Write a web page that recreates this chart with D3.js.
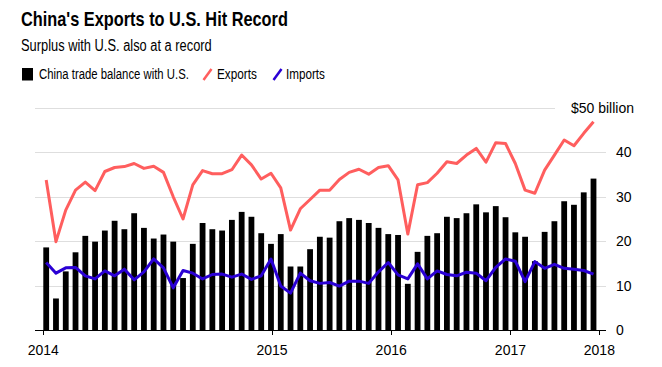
<!DOCTYPE html>
<html>
<head>
<meta charset="utf-8">
<script src="https://cdn.jsdelivr.net/npm/d3@7"></script>
<style>
  html, body { margin: 0; padding: 0; background: #fff; }
  svg { display: block; font-family: "Liberation Sans", Arial, Helvetica, sans-serif; }
</style>
</head>
<body>
<svg id="chart" width="662" height="367"></svg>
<script>
// Monthly values, $ billion
const balance = [18.6, 7.1, 13.2, 17.5, 21.2, 19.9, 22.4, 24.6, 22.7, 26.3,
  23.0, 20.6, 21.5, 19.9, 11.7, 19.4, 24.1, 22.7, 22.4, 24.8,
  26.6, 25.5, 21.8, 19.4, 21.6, 14.3, 14.3, 18.2, 21.0, 20.8,
  24.5, 25.2, 24.8, 24.1, 23.0, 21.6, 21.4, 10.4, 17.6, 21.2,
  21.8, 25.5, 25.2, 26.3, 28.3, 26.5, 27.9, 25.4, 22.0, 21.0,
  15.5, 22.1, 24.5, 29.0, 28.2, 31.0, 34.1];
const exportsVals = [33.8, 19.9, 27.0, 31.5, 33.3, 31.4, 35.7, 36.6, 36.8, 37.5,
  36.4, 36.9, 35.5, 30.0, 25.0, 32.7, 35.9, 35.2, 35.2, 36.1,
  39.4, 37.2, 34.0, 35.3, 32.0, 22.5, 27.3, 29.4, 31.5, 31.5,
  33.9, 35.5, 36.2, 35.1, 36.6, 37.0, 33.8, 21.6, 32.7, 33.2,
  35.3, 37.9, 37.5, 39.4, 40.9, 37.8, 42.2, 42.0, 37.5, 31.5,
  30.8, 36.0, 39.4, 42.8, 41.5, 44.3, 46.9];
const importsVals = [15.2, 12.8, 14.0, 14.1, 12.2, 11.5, 13.3, 12.2, 13.7, 11.3,
  13.1, 16.0, 14.0, 9.5, 13.4, 12.8, 11.5, 12.5, 12.6, 11.9,
  12.6, 11.4, 12.2, 16.0, 9.9, 8.3, 12.8, 11.1, 10.5, 10.7,
  9.9, 11.0, 11.0, 10.5, 13.1, 15.2, 12.4, 11.5, 14.9, 11.5,
  13.3, 12.5, 12.2, 13.0, 12.8, 11.1, 14.1, 16.0, 15.5, 10.9,
  15.4, 13.9, 14.8, 13.9, 13.7, 13.4, 12.6];
// x-axis year ticks (position in month-index units) and labels
const xTickPos = [-0.3, 23.1, 35.3, 47.5, 56.6];
const xTickLabels = ["2014", "2015", "2016", "2017", "2018"];
const yTicks = [0, 10, 20, 30, 40, 50];
const yTickLabels = ["0", "10", "20", "30", "40", "$50 billion"];

const title = "China's Exports to U.S. Hit Record";
const subtitle = "Surplus with U.S. also at a record";
const legendLabels = ["China trade balance with U.S.", "Exports", "Imports"];

const colors = { balance: "#000000", exports: "#ff5e5e", imports: "#2a00d4", grid: "#dedede" };

const svg = d3.select("#chart");

const x = d3.scaleLinear().domain([0, balance.length - 1]).range([46.2, 593.5]);
const y = d3.scaleLinear().domain([0, 50]).range([330, 108]);
const gridX0 = 35, gridX1 = 606;

// Text fitted horizontally to a target width (condensed look of the original)
function fitText(parent, str, x0, y0, size, width, weight) {
  const t = parent.append("text").attr("x", 0).attr("y", 0)
    .attr("font-size", size).attr("font-weight", weight || "normal").attr("fill", "#000")
    .text(str);
  const w = t.node().getComputedTextLength();
  const k = w > 0 ? width / w : 1;
  t.attr("transform", `translate(${x0},${y0}) scale(${k},1)`);
  return t;
}

// Title / subtitle
fitText(svg, title, 21, 26, 20, 267, "bold");
fitText(svg, subtitle, 21, 50.5, 16, 191);

// Legend
const lg = svg.append("g");
lg.append("rect").attr("x", 22).attr("y", 68).attr("width", 11).attr("height", 12.5).attr("fill", colors.balance);
fitText(lg, legendLabels[0], 39, 79, 15, 150);
lg.append("line").attr("x1", 203.5).attr("y1", 80).attr("x2", 211.5).attr("y2", 69)
  .attr("stroke", colors.exports).attr("stroke-width", 2.5);
fitText(lg, legendLabels[1], 217, 79, 15, 40);
lg.append("line").attr("x1", 273.5).attr("y1", 80).attr("x2", 281.5).attr("y2", 69)
  .attr("stroke", colors.imports).attr("stroke-width", 2.5);
fitText(lg, legendLabels[2], 286, 79, 15, 39);

// Gridlines
svg.append("g").selectAll("line").data(yTicks.filter(d => d > 0)).join("line")
  .attr("x1", gridX0)
  .attr("x2", d => d === 50 ? 555 : gridX1)
  .attr("y1", d => Math.round(y(d)) + 0.5)
  .attr("y2", d => Math.round(y(d)) + 0.5)
  .attr("stroke", colors.grid).attr("stroke-width", 1);

// Y labels
svg.append("g").selectAll("text").data(yTicks).join("text")
  .attr("x", d => d === 50 ? 634 : 616)
  .attr("y", d => y(d))
  .attr("dy", "0.35em")
  .attr("text-anchor", d => d === 50 ? "end" : "start")
  .attr("font-size", 14).attr("fill", "#000")
  .text((d, i) => yTickLabels[i]);

// Bars
const bw = 5.8;
svg.append("g").selectAll("rect").data(balance).join("rect")
  .attr("x", (d, i) => x(i) - bw / 2)
  .attr("y", d => y(d))
  .attr("width", bw)
  .attr("height", d => y(0) - y(d))
  .attr("fill", colors.balance);

// Lines
const line = d3.line().x((d, i) => x(i)).y(d => y(d));
svg.append("path").datum(exportsVals).attr("d", line)
  .attr("fill", "none").attr("stroke", colors.exports).attr("stroke-width", 3)
  .attr("stroke-linejoin", "round").attr("stroke-linecap", "butt");
svg.append("path").datum(importsVals).attr("d", line)
  .attr("fill", "none").attr("stroke", colors.imports).attr("stroke-width", 3)
  .attr("stroke-linejoin", "round").attr("stroke-linecap", "butt");

// Baseline + x ticks
svg.append("line").attr("x1", gridX0).attr("x2", gridX1)
  .attr("y1", y(0) + 0.5).attr("y2", y(0) + 0.5).attr("stroke", "#000").attr("stroke-width", 1);
const xt = svg.append("g").selectAll("g").data(xTickPos).join("g");
xt.append("line")
  .attr("x1", d => Math.round(x(d)) + 0.5).attr("x2", d => Math.round(x(d)) + 0.5)
  .attr("y1", y(0)).attr("y2", y(0) + 5)
  .attr("stroke", "#000").attr("stroke-width", 1);
xt.append("text")
  .attr("x", d => x(d)).attr("y", 354.5)
  .attr("text-anchor", "middle").attr("font-size", 14).attr("fill", "#000")
  .text((d, i) => xTickLabels[i]);
</script>
</body>
</html>
